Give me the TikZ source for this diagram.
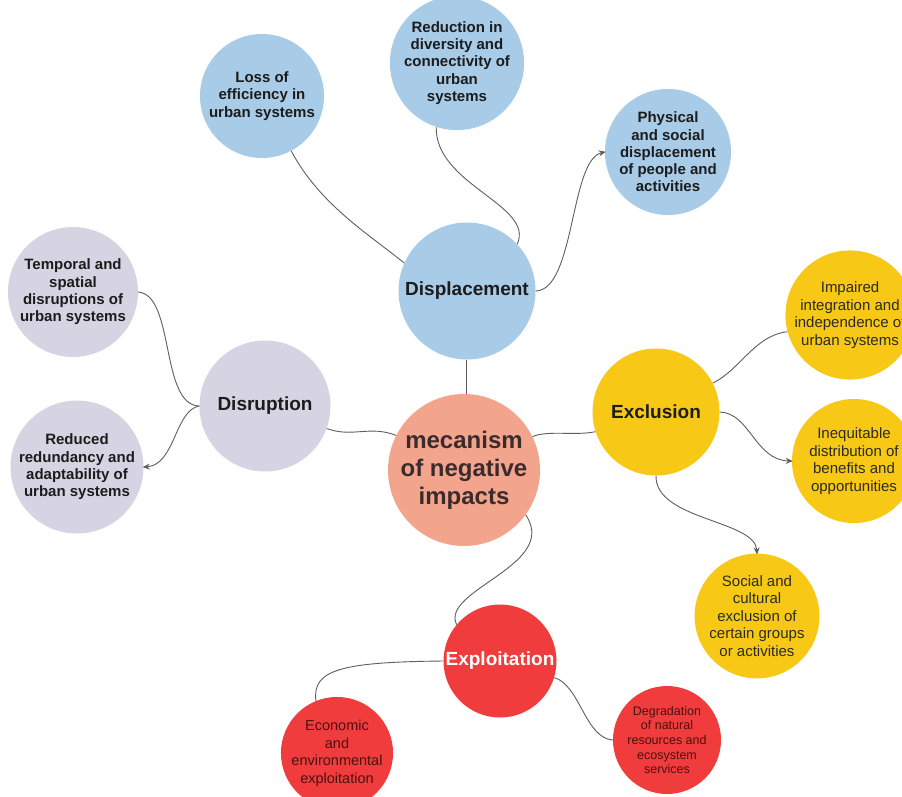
\documentclass[tikz,border=0pt]{standalone}
\usepackage{fontspec}
\setmainfont{Liberation Sans}
\usetikzlibrary{arrows.meta}
\definecolor{cblue}{HTML}{A8CBE7}
\definecolor{clav}{HTML}{D6D4E3}
\definecolor{csalmon}{HTML}{F3A48D}
\definecolor{cyellow}{HTML}{F7C815}
\definecolor{cred}{HTML}{F03C3C}
\definecolor{cline}{HTML}{5E5E5E}
\definecolor{cdark}{HTML}{1C1C1C}
\definecolor{cmec}{HTML}{3B2B2B}
\definecolor{credtxt}{HTML}{4D0F0F}
\definecolor{cytxt}{HTML}{2A2A2A}
\tikzset{
  bubble/.style={circle, draw=none, inner sep=0pt, align=center},
  leafb/.style={bubble, text=cdark, font=\fontsize{15}{17.3}\selectfont\bfseries},
  leafy/.style={bubble, fill=cyellow, text=cytxt, font=\fontsize{15}{17.5}\selectfont},
  leafr/.style={bubble, fill=cred, text=credtxt, font=\fontsize{14.5}{17.5}\selectfont},
  hub/.style={bubble, text=cdark, font=\fontsize{19}{22}\selectfont\bfseries},
  conn/.style={draw=cline, line width=0.9pt},
  arr/.style={conn, -{Stealth[length=7pt,width=6pt]}, shorten >=-1pt}
}
\begin{document}
\begin{tikzpicture}[x=1pt,y=-1pt]
\useasboundingbox (0,0) rectangle (902,796);
\clip (0,0) rectangle (902,796);
\fill[white] (0,0) rectangle (902,796);

% nodes
\node[leafb, fill=cblue, minimum size=124pt] (loss) at (262,96) {Loss of\\efficiency in\\urban systems};
\node[leafb, fill=cblue, minimum size=124pt] (red) at (457,63) {Reduction in\\diversity and\\connectivity of\\urban\\systems};
\node[leafb, fill=cblue, minimum size=112pt] (phys) at (668,152) {Physical\\and social\\displacement\\of people and\\activities};
\node[hub, fill=cblue, minimum size=137pt] (disp) at (467,291) {Displacement};
\node[leafb, fill=clav, minimum size=130pt] (temp) at (73,292) {Temporal and\\spatial\\disruptions of\\urban systems};
\node[leafb, fill=clav, minimum size=132pt] (redu) at (77,467) {Reduced\\redundancy and\\adaptability of\\urban systems};
\node[hub, fill=clav, minimum size=131pt] (disr) at (265,406) {Disruption};
\node[bubble, fill=csalmon, text=cmec, minimum size=152pt, font=\fontsize{24}{28}\selectfont\bfseries] (mec) at (464,470) {mecanism\\of negative\\impacts};
\node[hub, fill=cyellow, minimum size=127pt] (exc) at (656,412) {Exclusion};
\node[leafy, minimum size=126pt] (imp) at (850,315) {Impaired\\integration and\\independence of\\urban systems};
\node[leafy, minimum size=124pt] (ineq) at (854,461) {Inequitable\\distribution of\\benefits and\\opportunities};
\node[leafy, minimum size=122pt] (soc) at (757,616) {Social and\\cultural\\exclusion of\\certain groups\\or activities};
\node[hub, fill=cred, text=white, minimum size=113pt] (expl) at (500,661) {Exploitation};
\node[leafr, minimum size=106pt] (eco) at (337,753) {Economic\\and\\environmental\\exploitation};
\node[leafr, minimum size=108pt, font=\fontsize{12.5}{14.7}\selectfont] (deg) at (667,740) {Degradation\\of natural\\resources and\\ecosystem\\services};

% connectors
\draw[conn] (loss.-62) .. controls (320,205) and (370,235) .. (disp.156);
\draw[conn] (red.-108) .. controls (435,185) and (535,205) .. (disp.43);
\draw[arr] (disp.0) .. controls (575,290) and (570,160) .. (phys.180);
\draw[conn] (disp.south -| 466,0) -- (mec.north -| 466,0);
\draw[conn] (temp.0) .. controls (175,295) and (160,405) .. (disr.180);
\draw[arr] (disr.180) .. controls (175,410) and (175,465) .. (redu.0);
\draw[conn] (disr.-20) .. controls (352,438) and (370,425) .. (mec.153);
\draw[conn] (mec.26) .. controls (548,430) and (575,436) .. (exc.-162);
\draw[conn] (mec.-36) .. controls (560,565) and (440,590) .. (expl.140);
\draw[conn] (expl.180) .. controls (340,662) and (312,670) .. (eco.112);
\draw[conn] (expl.-17) .. controls (580,685) and (585,738) .. (deg.180);
\draw[conn] (exc.27) .. controls (740,370) and (755,335) .. (imp.-165);
\draw[arr] (exc.0) .. controls (750,413) and (755,460) .. (ineq.180);
\draw[arr] (exc.-90) .. controls (655,520) and (755,520) .. (soc.90);
\end{tikzpicture}
\end{document}
